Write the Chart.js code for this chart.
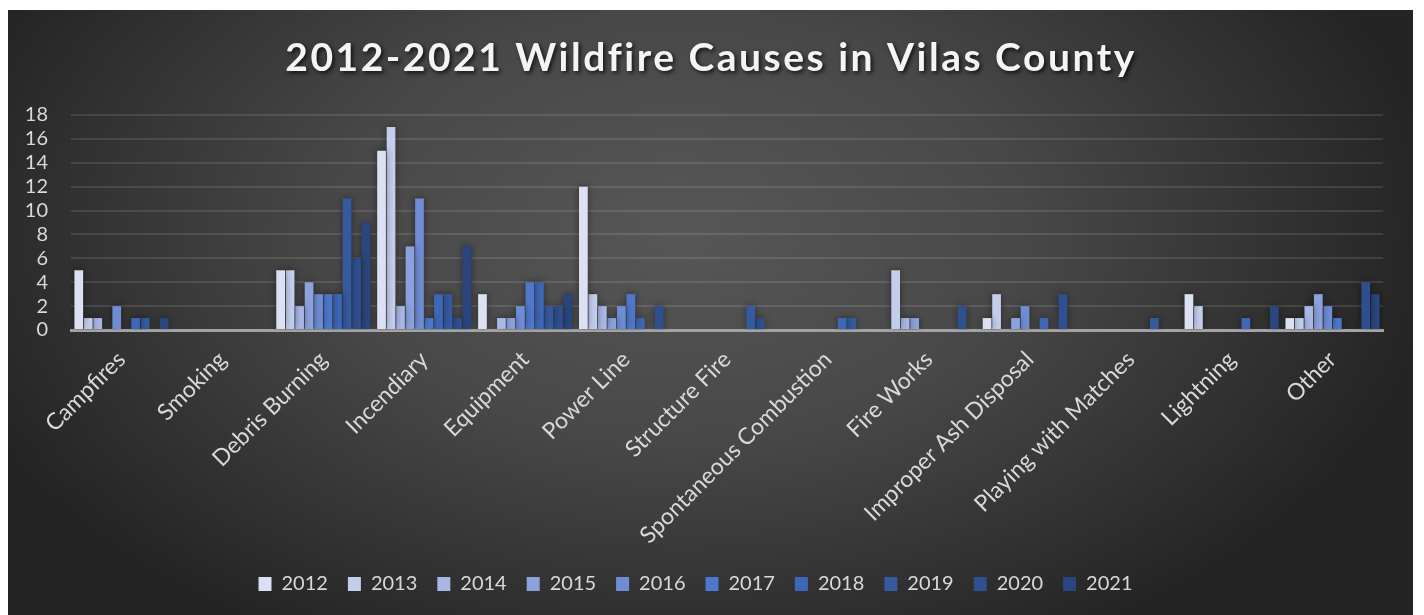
<!DOCTYPE html>
<html>
<head>
<meta charset="utf-8">
<title>Wildfire Causes</title>
<script src="https://cdn.jsdelivr.net/npm/chart.js@4.4.1/dist/chart.umd.min.js"></script>
<style>
  html, body { margin: 0; padding: 0; background: #ffffff; }
  #wrap { position: relative; width: 1424px; height: 615px; }
</style>
</head>
<body>
<div id="wrap"><canvas id="fireChart"></canvas></div>
<script>
// ------------------------------------------
// Data: fires per cause, one array per year
// ------------------------------------------
const chartTitle = "2012-2021 Wildfire Causes in Vilas County";

const causes = ["Campfires", "Smoking", "Debris Burning", "Incendiary", "Equipment",
  "Power Line", "Structure Fire", "Spontaneous Combustion", "Fire Works",
  "Improper Ash Disposal", "Playing with Matches", "Lightning", "Other"];

const years = ["2012", "2013", "2014", "2015", "2016", "2017", "2018", "2019", "2020", "2021"];

const fires2012 = [5, 0, 5, 15, 3, 12, 0, 0, 0, 1, 0, 3, 1];
const fires2013 = [1, 0, 5, 17, 0, 3, 0, 0, 5, 3, 0, 2, 1];
const fires2014 = [1, 0, 2, 2, 1, 2, 0, 0, 1, 0, 0, 0, 2];
const fires2015 = [0, 0, 4, 7, 1, 1, 0, 0, 1, 1, 0, 0, 3];
const fires2016 = [2, 0, 3, 11, 2, 2, 0, 0, 0, 2, 0, 0, 2];
const fires2017 = [0, 0, 3, 1, 4, 3, 0, 0, 0, 0, 0, 0, 1];
const fires2018 = [1, 0, 3, 3, 4, 1, 0, 1, 0, 1, 0, 1, 0];
const fires2019 = [1, 0, 11, 3, 2, 0, 2, 1, 0, 0, 1, 0, 0];
const fires2020 = [0, 0, 6, 1, 2, 2, 1, 0, 2, 3, 0, 0, 4];
const fires2021 = [1, 0, 9, 7, 3, 0, 0, 0, 0, 0, 0, 2, 3];

const yTicks = [0, 2, 4, 6, 8, 10, 12, 14, 16, 18];

// light to dark blue, one per year
const yearColors = ["#dbe0f2", "#c3cdec", "#a8b7e4", "#8ba2dc", "#6e8dd5",
  "#4d78cc", "#3e67b6", "#355aa0", "#2f4f8e", "#2b467e"];

const allYears = [fires2012, fires2013, fires2014, fires2015, fires2016,
  fires2017, fires2018, fires2019, fires2020, fires2021];

// ------------------------------------------
// Plugins: dark card background, title, bar shadow
// ------------------------------------------
const cardBackground = {
  id: 'cardBackground',
  beforeDraw(chart) {
    const ctx = chart.ctx;
    ctx.save();
    // elliptical glow, lighter near the top middle
    ctx.translate(680, 230);
    ctx.scale(1, 0.62);
    const g = ctx.createRadialGradient(0, 0, 0, 0, 0, 760);
    g.addColorStop(0, '#575757');
    g.addColorStop(0.45, '#484848');
    g.addColorStop(1, '#242424');
    ctx.fillStyle = g;
    ctx.fillRect(8 - 680, (10 - 230) / 0.62, 1405, 605 / 0.62);
    ctx.restore();
  }
};

const titleText = {
  id: 'titleText',
  afterDraw(chart) {
    const ctx = chart.ctx;
    ctx.save();
    ctx.font = 'bold 39px Lato';
    ctx.letterSpacing = '2.5px';
    ctx.textAlign = 'center';
    ctx.textBaseline = 'middle';
    ctx.shadowColor = 'rgba(0,0,0,0.75)';
    ctx.shadowOffsetX = 2;
    ctx.shadowOffsetY = 2;
    ctx.shadowBlur = 4;
    ctx.fillStyle = '#f4f4f4';
    ctx.fillText(chartTitle, 711, 58);
    ctx.restore();
  }
};

const barShadow = {
  id: 'barShadow',
  beforeDatasetsDraw(chart) {
    const ctx = chart.ctx;
    ctx.save();
    ctx.shadowColor = 'rgba(0,0,0,0.45)';
    ctx.shadowBlur = 7;
  },
  afterDatasetsDraw(chart) {
    chart.ctx.restore();
  }
};

const ctx = document.getElementById('fireChart').getContext('2d');

new Chart(ctx, {
  type: 'bar',
  data: {
    labels: causes,
    datasets: years.map((yr, i) => ({
      label: yr,
      data: allYears[i],
      backgroundColor: yearColors[i],
      borderWidth: 0,
      categoryPercentage: 0.94,
      barPercentage: 0.92
    }))
  },
  options: {
    responsive: true,
    maintainAspectRatio: false,
    animation: false,
    layout: {
      padding: { left: 8, right: 41, top: 115, bottom: 11 }
    },
    scales: {
      x: {
        grid: { display: false },
        border: { color: '#a3a3a3', width: 3 },
        ticks: {
          color: '#d9d9d9',
          font: { family: 'Lato', size: 23 },
          minRotation: 45,
          maxRotation: 45,
          autoSkip: false,
          padding: 8
        },
        afterFit(scale) { scale.height = 224; }
      },
      y: {
        min: 0,
        max: 18,
        afterBuildTicks(scale) { scale.ticks = yTicks.map(v => ({ value: v })); },
        grid: { color: 'rgba(255,255,255,0.11)', lineWidth: 2, drawTicks: false },
        border: { display: false },
        ticks: {
          color: '#d9d9d9',
          font: { family: 'Lato', size: 20 },
          autoSkip: false,
          padding: 23
        },
        afterFit(scale) { scale.width = 63; }
      }
    },
    plugins: {
      title: { display: false },
      tooltip: { enabled: false },
      legend: {
        position: 'bottom',
        labels: {
          color: '#d9d9d9',
          font: { family: 'Lato', size: 20 },
          boxWidth: 13,
          boxHeight: 14,
          padding: 20
        }
      }
    }
  },
  plugins: [cardBackground, barShadow, titleText]
});
</script>
</body>
</html>
